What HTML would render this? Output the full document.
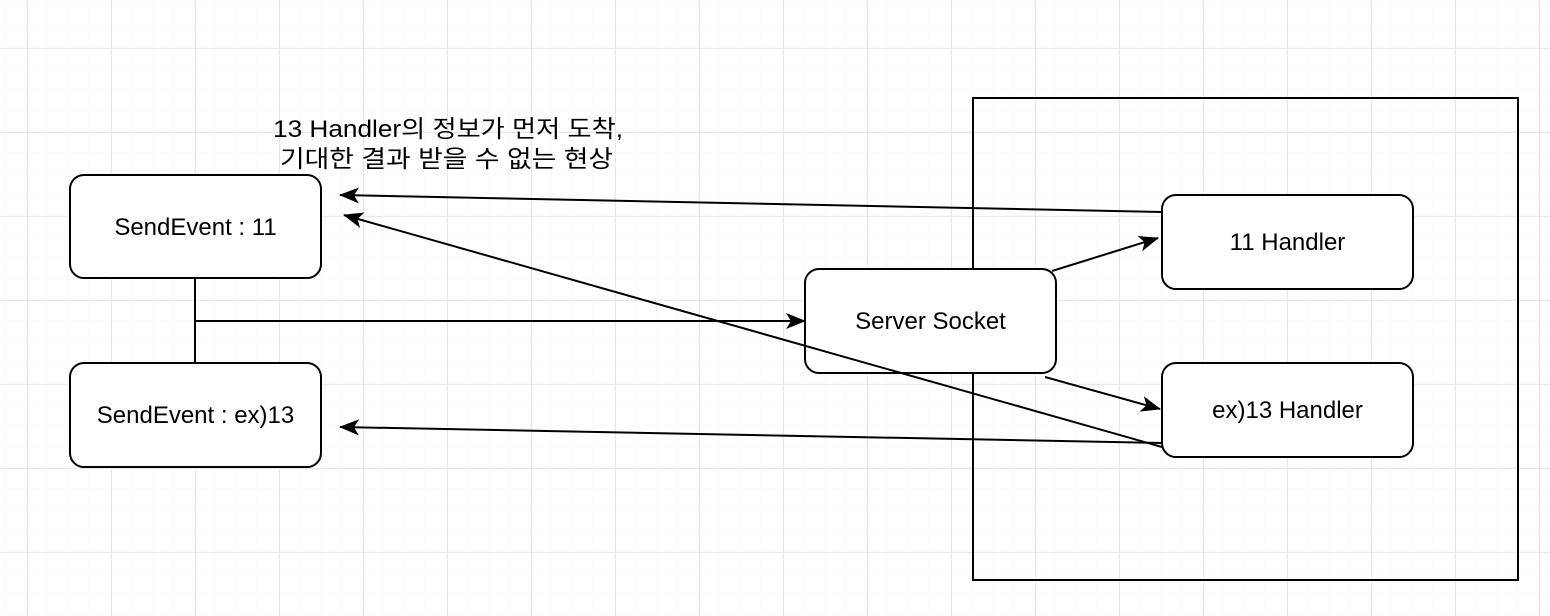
<!DOCTYPE html>
<html><head><meta charset="utf-8"><style>
html,body{margin:0;padding:0;background:#fff;}
svg{display:block;}
text{font-family:"Liberation Sans","Noto Sans CJK KR",sans-serif;font-size:24px;fill:#000;}
</style></head><body>
<svg width="1550" height="616" viewBox="0 0 1550 616" xmlns="http://www.w3.org/2000/svg">
<defs>
<pattern id="minor" x="6" y="6" width="21" height="21" patternUnits="userSpaceOnUse">
<path d="M21 0V21M0 21H21" fill="none" stroke="#f6f6f6" stroke-width="1"/>
</pattern>
<pattern id="major" x="27" y="48" width="84" height="84" patternUnits="userSpaceOnUse">
<path d="M0.5 0V84M0 0.5H84" fill="none" stroke="#e8e8e8" stroke-width="1"/>
</pattern>
<marker id="b" viewBox="0 0 20 16" refX="19" refY="8" markerWidth="20" markerHeight="16" markerUnits="userSpaceOnUse" orient="auto">
<path d="M0 0L20 8L0 16L5 8Z" fill="#000"/>
</marker>
</defs>
<rect width="1550" height="616" fill="url(#minor)"/>
<rect width="1550" height="616" fill="url(#major)"/>
<rect x="973" y="98" width="545" height="482" fill="none" stroke="#000" stroke-width="2"/>
<g stroke="#000" stroke-width="2" fill="none">
<line x1="195" y1="278" x2="195" y2="363"/>
<line x1="195" y1="321" x2="805" y2="321" marker-end="url(#b)"/>
<line x1="1162" y1="212" x2="340" y2="195" marker-end="url(#b)"/>
<line x1="1162" y1="443" x2="340" y2="427" marker-end="url(#b)"/>
<line x1="1052" y1="271" x2="1158" y2="238" marker-end="url(#b)"/>
<line x1="1045" y1="377" x2="1160" y2="409" marker-end="url(#b)"/>
</g>
<g stroke="#000" stroke-width="2" fill="#fff">
<rect x="70" y="175" width="251" height="103" rx="14"/>
<rect x="70" y="363" width="251" height="104" rx="14"/>
<rect x="805" y="269" width="251" height="104" rx="14"/>
<rect x="1162" y="195" width="251" height="94" rx="14"/>
<rect x="1162" y="363" width="251" height="94" rx="14"/>
</g>
<line x1="1162" y1="447" x2="344" y2="215" stroke="#000" stroke-width="2" marker-end="url(#b)"/>
<g text-anchor="middle">
<text x="195.5" y="235">SendEvent : 11</text>
<text x="195.5" y="423">SendEvent : ex)13</text>
<text x="930.5" y="329">Server Socket</text>
<text x="1287.5" y="250">11 Handler</text>
<text x="1287.5" y="418">ex)13 Handler</text>
</g>
<text x="273" y="137" textLength="350" lengthAdjust="spacingAndGlyphs">13 Handler의 정보가 먼저 도착,</text>
<text x="280" y="167" textLength="333" lengthAdjust="spacingAndGlyphs">기대한 결과 받을 수 없는 현상</text>
</svg>
</body></html>
